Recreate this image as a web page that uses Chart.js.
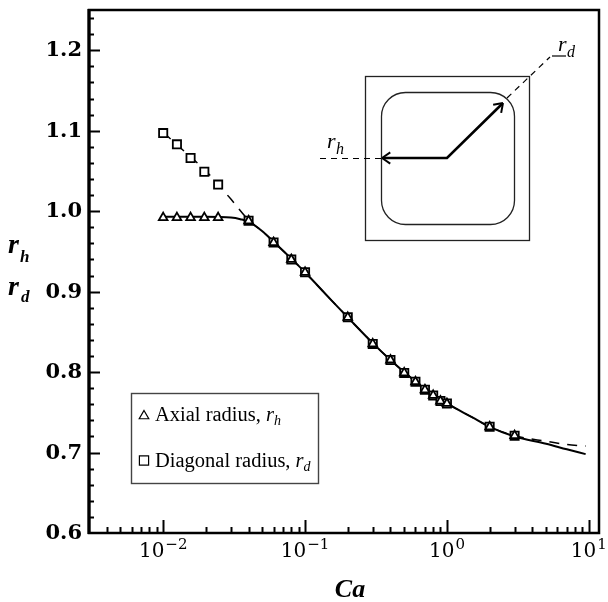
<!DOCTYPE html>
<html>
<head>
<meta charset="utf-8">
<script src="https://cdn.jsdelivr.net/npm/chart.js@4.4.1/dist/chart.umd.min.js"></script>
<style>
  html, body { margin: 0; padding: 0; background: #fff; }
  canvas { display: block; }
</style>
</head>
<body>
<canvas id="chart" width="608" height="602"></canvas>
<script>
// Capillary numbers of the computed cases
const caCases = [0.01, 0.0125, 0.0156, 0.0195, 0.0244, 0.04, 0.06, 0.08, 0.1, 0.2, 0.3, 0.4, 0.5, 0.6, 0.7, 0.8, 0.9, 1, 2, 3];
// Axial radius r_h of the bubble
const axialRadius = [0.992, 0.992, 0.992, 0.992, 0.992, 0.988, 0.961, 0.940, 0.924, 0.868, 0.835, 0.815, 0.799, 0.788, 0.778, 0.771, 0.764, 0.761, 0.732, 0.721];
// Diagonal radius r_d of the bubble
const diagonalRadius = [1.097, 1.083, 1.066, 1.049, 1.033, 0.988, 0.961, 0.940, 0.924, 0.868, 0.835, 0.815, 0.799, 0.788, 0.778, 0.771, 0.764, 0.761, 0.732, 0.721];

// Correlation curve for r_h (solid)
const caAxialFit = [0.01, 0.02, 0.03, 0.035, 0.04, 0.05, 0.06, 0.08, 0.1, 0.15, 0.2, 0.3, 0.4, 0.5, 0.7, 1, 1.5, 2, 3, 5, 7, 9.5];
const axialFit = [0.993, 0.993, 0.992, 0.990, 0.987, 0.975, 0.962, 0.941, 0.924, 0.891, 0.868, 0.836, 0.815, 0.800, 0.779, 0.761, 0.744, 0.732, 0.720, 0.711, 0.704, 0.698];
// Correlation curve for r_d (dashed)
const caDiagFit = [0.01, 0.015, 0.02, 0.03, 0.04, 0.05, 0.06, 0.08, 0.1, 0.15, 0.2, 0.3, 0.4, 0.5, 0.7, 1, 1.5, 2, 3, 5, 7, 9.5];
const diagFit = [1.098, 1.070, 1.050, 1.015, 0.989, 0.975, 0.962, 0.941, 0.924, 0.891, 0.868, 0.836, 0.815, 0.800, 0.779, 0.761, 0.744, 0.732, 0.721, 0.714, 0.710, 0.708];

// Axis ranges and ticks
const xMin = 0.003, xMax = 11.8;
const yMin = 0.6, yMax = 1.25;
const xMajorTicks = [0.01, 0.1, 1, 10];
const xTickExponents = ['\u22122', '\u22121', '0', '1'];
const yMajorTicks = [0.6, 0.7, 0.8, 0.9, 1.0, 1.1, 1.2];
const yMinorStep = 0.02;

const toPoints = (xs, ys) => xs.map((v, i) => ({ x: v, y: ys[i] }));

function drawMarker(ctx, style, cx, cy, r) {
  ctx.beginPath();
  if (style === 'triangle') {
    ctx.moveTo(cx, cy - r);
    ctx.lineTo(cx + r * 0.866, cy + r * 0.5);
    ctx.lineTo(cx - r * 0.866, cy + r * 0.5);
    ctx.closePath();
  } else {
    const s = r * Math.SQRT1_2;
    ctx.rect(cx - s, cy - s, 2 * s, 2 * s);
  }
  ctx.fillStyle = '#fff';
  ctx.fill();
  ctx.stroke();
}

function arrowHead(ctx, tx, ty, dx, dy, len, ang) {
  // dx, dy: unit vector pointing back from the tip
  for (const s of [-1, 1]) {
    const c = Math.cos(s * ang), n = Math.sin(s * ang);
    const ex = tx + len * (dx * c - dy * n);
    const ey = ty + len * (dx * n + dy * c);
    ctx.beginPath();
    ctx.moveTo(tx, ty);
    ctx.lineTo(ex, ey);
    ctx.stroke();
  }
}

const decorations = {
  id: 'decorations',
  afterDraw(chart) {
    const { ctx, chartArea: a, scales: { x, y } } = chart;
    ctx.save();
    ctx.strokeStyle = '#000';
    ctx.fillStyle = '#000';

    // y ticks (inward)
    ctx.lineWidth = 2;
    for (let v = yMin + yMinorStep; v < yMax - 1e-9; v += yMinorStep) {
      const py = Math.round(y.getPixelForValue(v)) + 0.5;
      const major = yMajorTicks.some(t => Math.abs(t - v) < 1e-6);
      ctx.beginPath();
      ctx.moveTo(a.left, py);
      ctx.lineTo(a.left + (major ? 11 : 5), py);
      ctx.stroke();
    }
    // x ticks (inward)
    for (let e = -3; e <= 1; e++) {
      for (let k = 1; k <= 9; k++) {
        const v = k * Math.pow(10, e);
        if (v <= xMin || v >= xMax) continue;
        const px = Math.round(x.getPixelForValue(v)) + 0.5;
        ctx.beginPath();
        ctx.moveTo(px, a.bottom);
        ctx.lineTo(px, a.bottom - (k === 1 ? 13 : 6));
        ctx.stroke();
      }
    }

    // frame
    ctx.lineWidth = 2.5;
    ctx.strokeRect(a.left, a.top, a.right - a.left, a.bottom - a.top);
    ctx.lineWidth = 3.2;
    ctx.beginPath();
    ctx.moveTo(a.left, a.top - 1);
    ctx.lineTo(a.left, a.bottom + 1);
    ctx.stroke();

    // y tick labels
    ctx.font = 'bold 21px "DejaVu Serif"';
    ctx.textAlign = 'right';
    ctx.textBaseline = 'alphabetic';
    yMajorTicks.forEach(v => {
      ctx.fillText(v.toFixed(1), a.left - 7, y.getPixelForValue(v) + 6);
    });

    // x tick labels: 10 with superscript exponent
    ctx.textAlign = 'left';
    xMajorTicks.forEach((v, i) => {
      const px = x.getPixelForValue(v);
      ctx.font = '20px "DejaVu Serif"';
      const w1 = ctx.measureText('10').width;
      ctx.font = '15px "DejaVu Serif"';
      const w2 = ctx.measureText(xTickExponents[i]).width;
      const start = px - (w1 + w2 + 1) / 2;
      ctx.font = '20px "DejaVu Serif"';
      ctx.fillText('10', start, a.bottom + 24);
      ctx.font = '15px "DejaVu Serif"';
      ctx.fillText(xTickExponents[i], start + w1 + 1, a.bottom + 16);
    });

    // axis titles
    ctx.font = 'italic bold 26px "Liberation Serif"';
    ctx.textAlign = 'center';
    ctx.fillText('Ca', (a.left + a.right) / 2 + 6, 597);
    ctx.textAlign = 'left';
    ctx.font = 'italic bold 28px "Liberation Serif"';
    ctx.fillText('r', 8, 253);
    ctx.fillText('r', 8, 295);
    ctx.font = 'italic bold 17px "Liberation Serif"';
    ctx.fillText('h', 20, 262);
    ctx.fillText('d', 21, 302);

    // legend
    ctx.lineWidth = 1.4;
    ctx.strokeStyle = '#444';
    ctx.strokeRect(131.5, 393.5, 187, 90);
    ctx.strokeStyle = '#000';
    ctx.lineWidth = 1.2;
    drawMarker(ctx, 'triangle', 144, 416, 5.5);
    drawMarker(ctx, 'rect', 144, 460.5, 6.5);
    ctx.fillStyle = '#000';
    ctx.font = '20.5px "Liberation Serif"';
    ctx.fillText('Axial radius,', 155, 421);
    let w = ctx.measureText('Axial radius, ').width;
    ctx.font = 'italic 20.5px "Liberation Serif"';
    ctx.fillText('r', 155 + w, 421);
    let wr = ctx.measureText('r').width;
    ctx.font = 'italic 14px "Liberation Serif"';
    ctx.fillText('h', 155 + w + wr, 425);
    ctx.font = '20.5px "Liberation Serif"';
    ctx.fillText('Diagonal radius,', 155, 467);
    w = ctx.measureText('Diagonal radius, ').width;
    ctx.font = 'italic 20.5px "Liberation Serif"';
    ctx.fillText('r', 155 + w, 467);
    ctx.font = 'italic 14px "Liberation Serif"';
    ctx.fillText('d', 155 + w + wr, 471);

    // inset: channel cross-section with bubble outline
    ctx.strokeStyle = '#222';
    ctx.lineWidth = 1.3;
    ctx.strokeRect(365.5, 76.5, 164, 164);
    ctx.beginPath();
    ctx.roundRect(381.5, 92.5, 133, 132, 24);
    ctx.stroke();
    ctx.strokeStyle = '#000';
    ctx.lineWidth = 2.6;
    ctx.beginPath();
    ctx.moveTo(383, 158);
    ctx.lineTo(447, 158);
    ctx.lineTo(502, 104);
    ctx.stroke();
    ctx.lineWidth = 2;
    arrowHead(ctx, 382, 158, 1, 0, 10, 0.6);
    arrowHead(ctx, 503, 103, -Math.SQRT1_2, Math.SQRT1_2, 10, 0.6);
    ctx.lineWidth = 1.2;
    ctx.setLineDash([6, 5]);
    ctx.beginPath();
    ctx.moveTo(320, 158.5);
    ctx.lineTo(381, 158.5);
    ctx.moveTo(507, 98);
    ctx.lineTo(550, 57);
    ctx.stroke();
    ctx.setLineDash([]);
    ctx.beginPath();
    ctx.moveTo(552, 56);
    ctx.lineTo(566, 56);
    ctx.stroke();
    ctx.fillStyle = '#000';
    ctx.font = 'italic 22px "Liberation Serif"';
    ctx.fillText('r', 558, 51);
    ctx.fillText('r', 327, 148);
    ctx.font = 'italic 16px "Liberation Serif"';
    ctx.fillText('d', 567, 57);
    ctx.fillText('h', 336, 154);

    ctx.restore();
  }
};

new Chart(document.getElementById('chart'), {
  type: 'scatter',
  data: {
    datasets: [
      {
        label: 'Axial radius',
        data: toPoints(caCases, axialRadius),
        pointStyle: 'triangle',
        pointRadius: 5,
        pointBorderWidth: 1.8,
        pointBorderColor: '#000',
        pointBackgroundColor: '#fff',
        showLine: false
      },
      {
        label: 'Diagonal radius',
        data: toPoints(caCases, diagonalRadius),
        pointStyle: 'rect',
        pointRadius: 5.8,
        pointBorderWidth: 1.8,
        pointBorderColor: '#000',
        pointBackgroundColor: '#fff',
        showLine: false
      },
      {
        label: 'r_h fit',
        data: toPoints(caAxialFit, axialFit),
        showLine: true,
        pointRadius: 0,
        borderColor: '#000',
        borderWidth: 2,
        cubicInterpolationMode: 'monotone'
      },
      {
        label: 'r_d fit',
        data: toPoints(caDiagFit, diagFit),
        showLine: true,
        pointRadius: 0,
        borderColor: '#000',
        borderWidth: 1.5,
        borderDash: [10, 8],
        cubicInterpolationMode: 'monotone'
      }
    ]
  },
  options: {
    responsive: false,
    devicePixelRatio: 1,
    animation: false,
    layout: { padding: { top: 10, right: 9, left: 0, bottom: 0 } },
    plugins: { legend: { display: false }, tooltip: { enabled: false } },
    scales: {
      x: {
        type: 'logarithmic',
        min: xMin,
        max: xMax,
        grid: { display: false },
        border: { display: false },
        ticks: { display: false },
        afterFit(scale) { scale.height = 69; }
      },
      y: {
        type: 'linear',
        min: yMin,
        max: yMax,
        grid: { display: false },
        border: { display: false },
        ticks: { display: false },
        afterFit(scale) { scale.width = 89; }
      }
    }
  },
  plugins: [decorations]
});
</script>
</body>
</html>
